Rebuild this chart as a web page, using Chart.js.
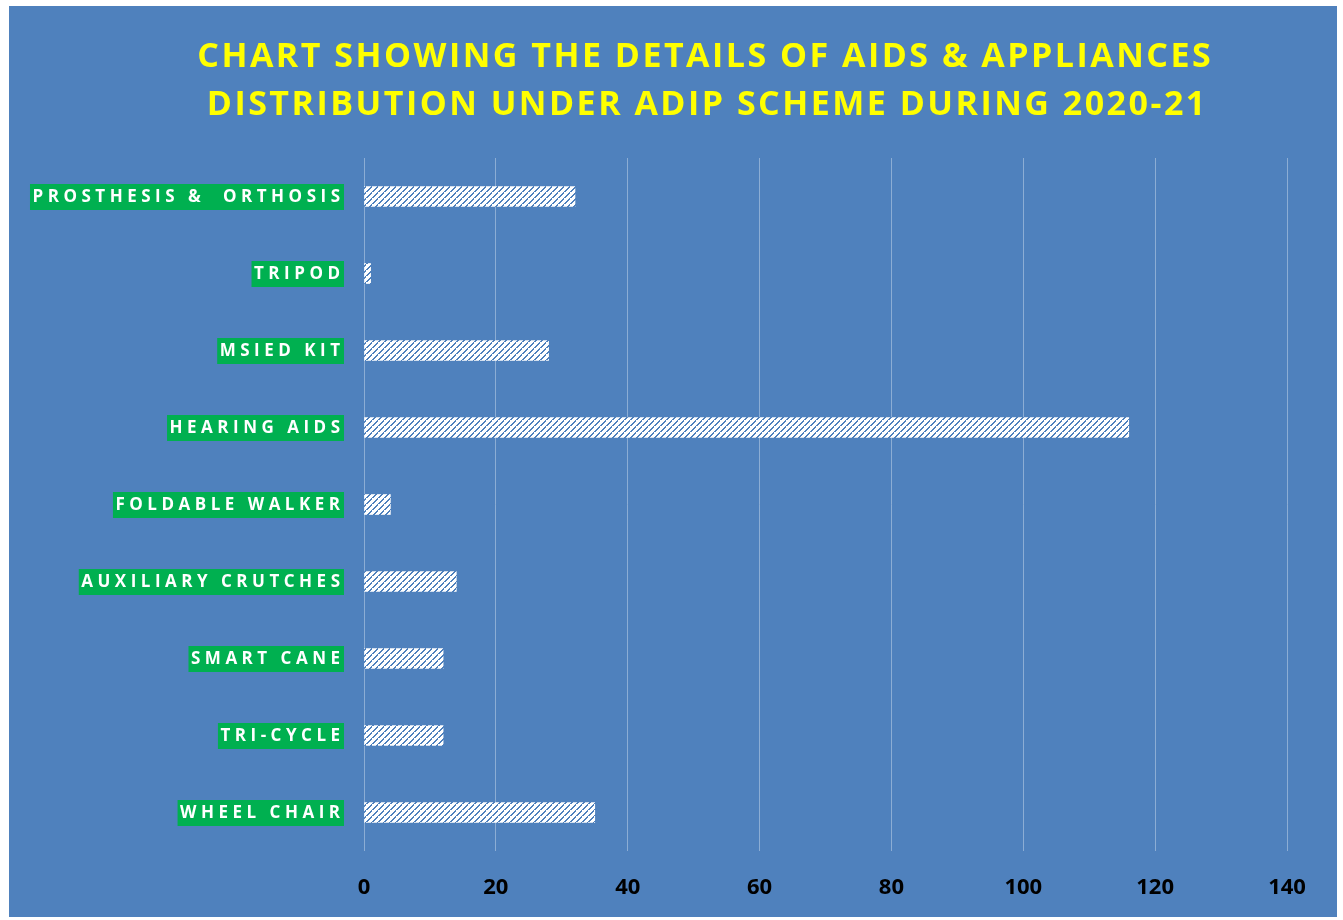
<!DOCTYPE html>
<html>
<head>
<meta charset="utf-8">
<title>ADIP 2020-21</title>
<script src="https://cdn.jsdelivr.net/npm/chart.js@4.4.0/dist/chart.umd.min.js"></script>
<style>
	html, body { margin: 0; padding: 0; background: #ffffff; }
	canvas { display: block; }
</style>
</head>
<body>
<canvas id="adip-chart" width="1343" height="920"></canvas>
<script>
(function () {
	'use strict';

	var titleLines = [
		'CHART SHOWING THE DETAILS OF AIDS & APPLIANCES',
		'DISTRIBUTION UNDER ADIP SCHEME DURING 2020-21'
	];
	var categories = [
		'PROSTHESIS &  ORTHOSIS',
		'TRIPOD',
		'MSIED KIT',
		'HEARING AIDS',
		'FOLDABLE WALKER',
		'AUXILIARY CRUTCHES',
		'SMART CANE',
		'TRI-CYCLE',
		'WHEEL CHAIR'
	];
	var counts = [32, 1, 28, 116, 4, 14, 12, 12, 35];
	var axisMin = 0;
	var axisMax = 140;
	var axisStep = 20;

	var blue = '#4f81bd';
	var font = '"Open Sans", "DejaVu Sans", sans-serif';

	function hatchPattern(ctx) {
		var tile = document.createElement('canvas');
		var size = 6;
		tile.width = size;
		tile.height = size;
		var t = tile.getContext('2d');
		t.fillStyle = '#ffffff';
		t.fillRect(0, 0, size, size);
		t.fillStyle = blue;
		for (var i = 0; i < size; i++) {
			t.fillRect(i, size - 1 - i, 2, 1);
		}
		t.fillRect(0, size - 1, 1, 1);
		return ctx.createPattern(tile, 'repeat');
	}

	// blue panel behind everything
	var panelPlugin = {
		id: 'panel',
		beforeDraw: function (chart) {
			var ctx = chart.ctx;
			ctx.save();
			ctx.fillStyle = blue;
			ctx.fillRect(9, 6, 1328, 911);
			ctx.restore();
		},
	};

	// title with letter spacing, stretched to the width in the picture
	var titlePlugin = {
		id: 'spacedTitle',
		afterDraw: function (chart) {
			var ctx = chart.ctx;
			ctx.save();
			ctx.font = 'bold 34px ' + font;
			ctx.fillStyle = '#ffff00';
			ctx.textAlign = 'center';
			ctx.textBaseline = 'alphabetic';
			ctx.letterSpacing = '0px';
			var w0 = ctx.measureText(titleLines[0]).width;
			var spacing = (1016 - w0) / titleLines[0].length;
			ctx.letterSpacing = spacing + 'px';
			ctx.fillText(titleLines[0], 704 + spacing / 2, 67);
			ctx.fillText(titleLines[1], 706 + spacing / 2, 115);
			ctx.restore();
		},
	};

	// category labels in green boxes
	var labelPlugin = {
		id: 'boxedLabels',
		afterDraw: function (chart) {
			var ctx = chart.ctx;
			var yScale = chart.scales.y;
			ctx.save();
			ctx.font = 'bold 17px ' + font;
			ctx.letterSpacing = '4.5px';
			ctx.textAlign = 'right';
			ctx.textBaseline = 'middle';
			categories.forEach(function (label, i) {
				var y = yScale.getPixelForValue(i);
				var w = ctx.measureText(label).width;
				var right = 344;
				ctx.fillStyle = '#00b050';
				ctx.fillRect(right - w - 2, Math.round(y) - 13, w + 2, 26);
				ctx.fillStyle = '#ffffff';
				ctx.fillText(label, right + 0.5, y + 1);
			});
			ctx.restore();
		},
	};

	var canvas = document.getElementById('adip-chart');
	var ctx = canvas.getContext('2d');

	new Chart(canvas, {
		type: 'bar',
		data: {
			labels: categories,
			datasets: [
				{
					data: counts,
					backgroundColor: hatchPattern(ctx),
					borderWidth: 0,
					barThickness: 20,
				},
			],
		},
		options: {
			indexAxis: 'y',
			responsive: false,
			animation: false,
			layout: {
				padding: { left: 0, top: 158, right: 56, bottom: 0 },
			},
			plugins: {
				legend: { display: false },
				title: { display: false },
				tooltip: { enabled: false },
			},
			scales: {
				x: {
					min: axisMin,
					max: axisMax,
					border: { display: false },
					grid: {
						color: 'rgba(255,255,255,0.35)',
						lineWidth: 1,
						drawTicks: false,
					},
					ticks: {
						stepSize: axisStep,
						color: '#000000',
						padding: 24,
						font: { family: font, size: 22, weight: 'bold' },
					},
					afterFit: function (scale) {
						scale.height = 69;
					},
				},
				y: {
					border: { display: false },
					grid: { display: false },
					ticks: { display: false },
					afterFit: function (scale) {
						scale.width = 364;
					},
				},
			},
		},
		plugins: [panelPlugin, titlePlugin, labelPlugin],
	});
})();
</script>
</body>
</html>
